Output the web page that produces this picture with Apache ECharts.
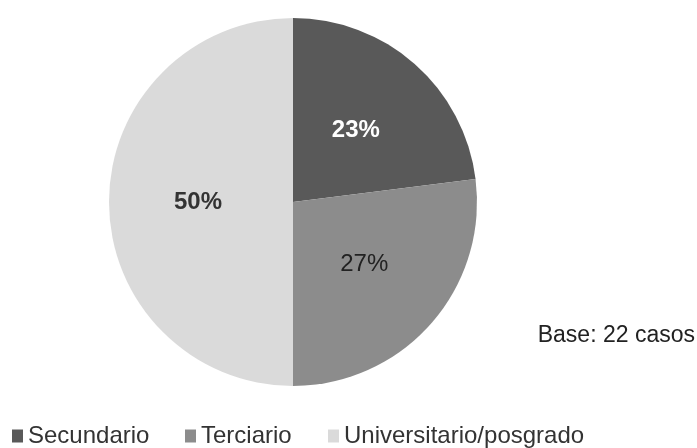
<!DOCTYPE html>
<html>
<head>
<meta charset="utf-8">
<script src="https://cdn.jsdelivr.net/npm/echarts@6/dist/echarts.min.js"></script>
<style>
html,body{margin:0;padding:0;background:#ffffff;}
#chart{width:697px;height:448px;}
</style>
</head>
<body>
<div id="chart"></div>
<script>
const categories = ['Secundario', 'Terciario', 'Universitario/posgrado'];
const values = [23, 27, 50];
const colors = ['#595959', '#8c8c8c', '#dadada'];
const labelColors = ['#ffffff', '#222222', '#333333'];
const labelWeights = ['bold', 'normal', 'bold'];
const baseNote = 'Base: 22 casos';

const chart = echarts.init(document.getElementById('chart'), null, {renderer: 'canvas'});

const legendLefts = [12, 185, 328];
const legends = categories.map((c, i) => ({
  data: [c],
  left: legendLefts[i],
  top: 424,
  padding: 0,
  orient: 'horizontal',
  icon: 'rect',
  itemWidth: 11,
  itemHeight: 13,
  itemGap: 0,
  selectedMode: false,
  textStyle: {
    fontFamily: 'Arial, "Liberation Sans", sans-serif',
    fontSize: 24,
    color: '#333333',
    padding: [0, 0, 0, 0]
  }
}));

chart.setOption({
  animation: false,
  backgroundColor: '#ffffff',
  color: colors,
  legend: legends,
  graphic: [{
    type: 'text',
    x: 695,
    y: 336,
    style: {
      text: baseNote,
      fill: '#222222',
      font: '23px Arial, "Liberation Sans", sans-serif',
      textAlign: 'right',
      textVerticalAlign: 'middle'
    }
  }],
  series: [{
    type: 'pie',
    center: [293, 202],
    radius: [0, 184],
    startAngle: 90,
    clockwise: true,
    avoidLabelOverlap: false,
    label: {
      show: true,
      position: 'inner',
      formatter: '{c}%',
      fontFamily: 'Arial, "Liberation Sans", sans-serif',
      fontSize: 24
    },
    labelLine: {show: false},
    emphasis: {disabled: true},
    itemStyle: {borderWidth: 0},
    data: categories.map((c, i) => ({
      name: c,
      value: values[i],
      itemStyle: {color: colors[i]},
      label: {color: labelColors[i], fontWeight: labelWeights[i]}
    }))
  }]
});
</script>
</body>
</html>
